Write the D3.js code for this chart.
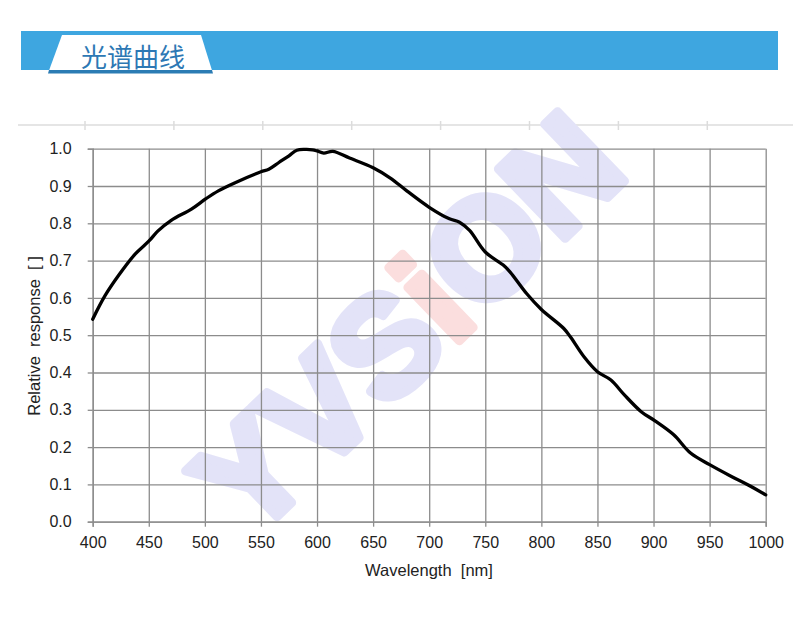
<!DOCTYPE html>
<html>
<head>
<meta charset="utf-8">
<script src="https://cdn.jsdelivr.net/npm/d3@7"></script>
<style>
  html, body { margin: 0; padding: 0; background: #fff; }
  svg { display: block; }
</style>
</head>
<body>
<svg id="chart" width="800" height="633"></svg>
<script>
// ---- data ----
const title = "光谱曲线";
const xLabel = "Wavelength  [nm]";
const yLabel = "Relative  response  [ ]";
const xTicks = [400, 450, 500, 550, 600, 650, 700, 750, 800, 850, 900, 950, 1000];
const yTicks = [0, 0.1, 0.2, 0.3, 0.4, 0.5, 0.6, 0.7, 0.8, 0.9, 1.0];
const wavelength = [400, 411, 423, 438, 450, 458, 470, 488, 501, 512, 527, 550, 557, 566, 575, 582, 590, 596, 600, 606, 614, 629, 650, 665, 680, 700, 718, 727, 736, 750, 766, 772, 787, 800, 820, 826, 838, 850, 862, 874, 889, 901, 918, 933, 950, 969, 984, 1000];
const response   = [0.543, 0.606, 0.66, 0.718, 0.752, 0.779, 0.808, 0.838, 0.866, 0.887, 0.909, 0.938, 0.945, 0.963, 0.981, 0.996, 0.998, 0.997, 0.994, 0.988, 0.993, 0.975, 0.949, 0.922, 0.887, 0.843, 0.812, 0.803, 0.781, 0.723, 0.688, 0.67, 0.611, 0.569, 0.518, 0.495, 0.442, 0.402, 0.38, 0.34, 0.295, 0.271, 0.233, 0.184, 0.153, 0.122, 0.099, 0.072];
const watermark = ["Y", "V", "S", "i", "O", "N"];

const svg = d3.select("#chart");

// ---- header banner ----
svg.append("rect").attr("x", 21).attr("y", 31).attr("width", 757).attr("height", 39).attr("fill", "#3ea6e0");
svg.append("polygon").attr("points", "62,35 201,35 212,70.5 49,70.5").attr("fill", "#ffffff");
svg.append("polygon").attr("points", "49,70 212,70 213,73.5 48,73.5").attr("fill", "#2b7cb4");
svg.append("text").attr("x", 133).attr("y", 55)
  .attr("text-anchor", "middle").attr("dominant-baseline", "central")
  .attr("font-family", "'Noto Sans CJK SC', sans-serif").attr("font-size", 26)
  .attr("fill", "#2d78b4").text(title);

// ---- faint top rule ----
const rule = svg.append("g").attr("stroke", "#dcdcdc").attr("stroke-width", 1.5);
rule.append("line").attr("x1", 18).attr("x2", 793).attr("y1", 125).attr("y2", 125);
d3.range(8).forEach(i => {
  const xx = 85 + i * 88.9;
  rule.append("line").attr("x1", xx).attr("x2", xx).attr("y1", 121).attr("y2", 130);
});

// ---- scales ----
const x = d3.scaleLinear().domain([400, 1000]).range([92.7, 765.7]);
const y = d3.scaleLinear().domain([0, 1]).range([521.7, 148.7]);

// ---- watermark ----
const wm = svg.append("text")
  .attr("transform", "translate(407,323) rotate(-44)")
  .attr("text-anchor", "middle").attr("dominant-baseline", "central")
  .attr("font-family", "'Liberation Sans', Arial, sans-serif").attr("font-weight", "bold")
  .attr("font-size", 140).attr("stroke-width", 9).attr("stroke-linejoin", "round");
wm.selectAll("tspan").data(watermark).join("tspan")
  .attr("fill", d => d === "i" ? "#fbdede" : "#e3e3f8")
  .attr("stroke", d => d === "i" ? "#fbdede" : "#e3e3f8")
  .text(d => d);

// ---- grid ----
const W = x(1000) - x(400), H = y(0) - y(1);
const gridColor = "#8c8c8c";
const gx = svg.append("g").attr("transform", `translate(0,${y(0)})`)
  .call(d3.axisBottom(x).tickValues(xTicks).tickSize(-H).tickFormat(""));
const gy = svg.append("g").attr("transform", `translate(${x(400)},0)`)
  .call(d3.axisLeft(y).tickValues(yTicks).tickSize(-W).tickFormat(""));
[gx, gy].forEach(g => {
  g.select(".domain").remove();
  g.selectAll("line").attr("stroke", gridColor).attr("stroke-width", 1.3);
});

// ---- axes ----
const ax = svg.append("g").attr("transform", `translate(0,${y(0)})`)
  .call(d3.axisBottom(x).tickValues(xTicks).tickSize(5).tickPadding(9.5).tickFormat(d3.format("d")));
const ay = svg.append("g").attr("transform", `translate(${x(400)},0)`)
  .call(d3.axisLeft(y).tickValues(yTicks).tickSize(5).tickPadding(16).tickFormat(d3.format(".1f")));
[ax, ay].forEach(g => {
  g.select(".domain").attr("stroke", gridColor).attr("stroke-width", 1.3);
  g.selectAll("line").attr("stroke", gridColor).attr("stroke-width", 1.3);
  g.selectAll("text").attr("font-family", "'Liberation Sans', Arial, sans-serif")
    .attr("font-size", 16).attr("fill", "#222");
});

// ---- axis titles ----
svg.append("text").attr("x", 429).attr("y", 576).attr("text-anchor", "middle")
  .attr("font-family", "'Liberation Sans', Arial, sans-serif").attr("font-size", 16.5).attr("fill", "#222")
  .style("white-space", "pre").attr("xml:space", "preserve").text(xLabel);
svg.append("text").attr("transform", "translate(39.5,336) rotate(-90)").attr("text-anchor", "middle")
  .attr("font-family", "'Liberation Sans', Arial, sans-serif").attr("font-size", 16.5).attr("fill", "#222")
  .style("white-space", "pre").attr("xml:space", "preserve").text(yLabel);

// ---- curve ----
const pts = wavelength.map((w, i) => [w, response[i]]);
svg.append("path").datum(pts)
  .attr("fill", "none").attr("stroke", "#000").attr("stroke-width", 3.3)
  .attr("stroke-linejoin", "round").attr("stroke-linecap", "round")
  .attr("d", d3.line().x(d => x(d[0])).y(d => y(d[1])).curve(d3.curveCatmullRom.alpha(0.5)));
</script>
</body>
</html>
